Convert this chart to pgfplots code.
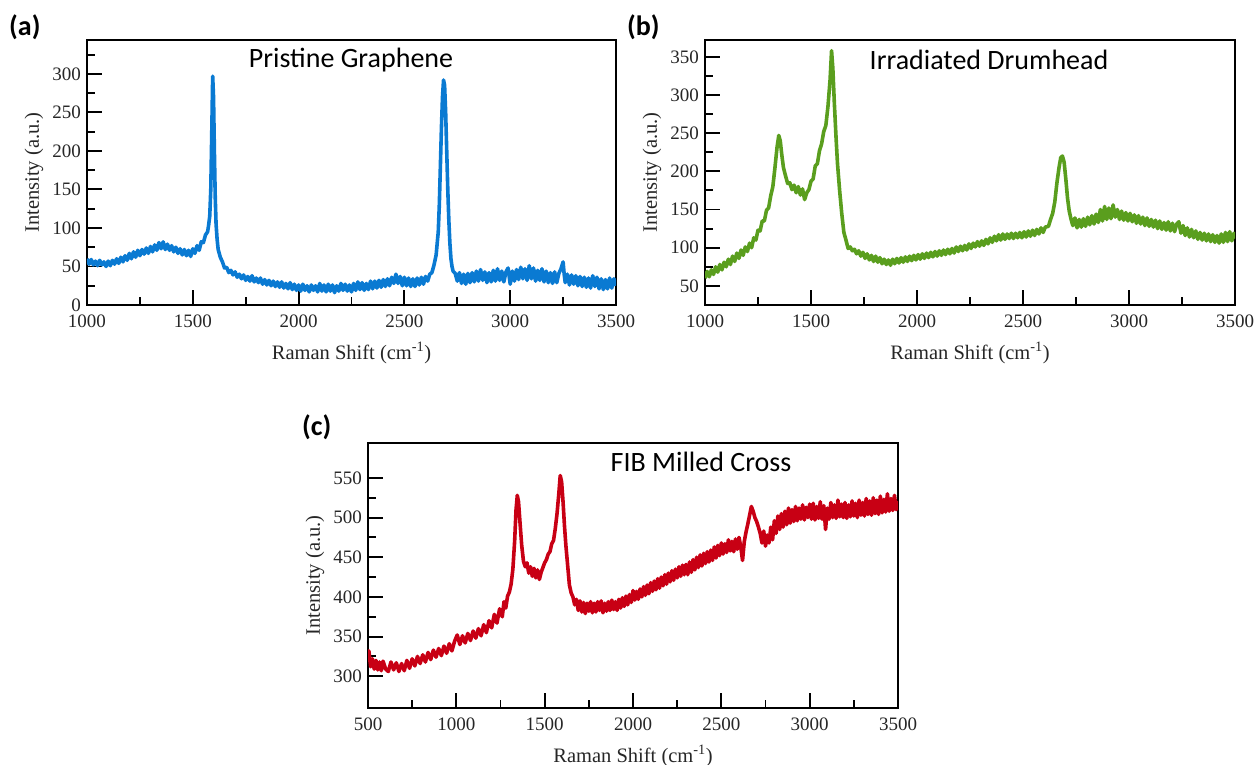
\documentclass[border=0pt]{standalone}
\usepackage{pgfplots}
\pgfplotsset{compat=1.18}
\usepackage{fontspec}
\setmainfont{Liberation Serif}
\newfontfamily\calfont{Carlito}
\definecolor{cblue}{HTML}{0A7AD2}
\definecolor{cgreen}{HTML}{5A9E1E}
\definecolor{cred}{HTML}{C80014}
\pgfplotsset{myax/.style={
  scale only axis, width=530pt, height=265pt, anchor=south west,
  axis line style={line width=1.6pt, black},
  every tick/.style={line width=1.9pt, black},
  major tick length=15pt, minor tick length=8pt,
  tick align=inside, tick pos=left, minor tick num=1,
  xtick distance=500,
  ticklabel style={font=\fontsize{19}{19}\selectfont, text=black!85, inner sep=1pt},
  xticklabel style={yshift=-9pt},
  yticklabel style={xshift=-5pt},
  /pgf/number format/assume math mode=true,
  /pgf/number format/set thousands separator={},
  label style={font=\fontsize{20.5}{21}\selectfont, text=black!85},
  xlabel={Raman Shift (cm\textsuperscript{-1})},
  ylabel={Intensity (a.u.)},
  xlabel style={at={(axis description cs:0.5,-0.18)}, anchor=center},
  ylabel style={at={(axis description cs:-0.1,0.5)}, anchor=center},
  every axis plot/.append style={line width=3.6pt, line join=round, no markers},
  clip=true}}
\begin{document}
\begin{tikzpicture}
\path[use as bounding box] (0pt,0pt) rectangle (1259pt,765pt);
% (a)
\begin{axis}[myax, at={(87pt,460pt)}, width=529pt, xmin=1000, xmax=3500, ymin=0, ymax=344, ytick distance=50]
\addplot[cblue] table {
1000 60
1010 53
1020 59
1030 52
1040 57
1050 51
1060 58
1070 52
1080 56
1090 50
1100 57
1110 51
1120 58
1130 53
1140 60
1150 54
1160 62
1170 56
1180 64
1190 58
1200 67
1210 60
1220 69
1230 62
1240 71
1250 64
1260 72
1270 66
1280 74
1290 67
1300 76
1310 69
1320 78
1330 71
1340 81
1350 73
1360 82
1370 72
1380 79
1390 71
1400 77
1410 69
1420 75
1430 67
1440 73
1450 65
1460 72
1470 64
1480 71
1490 63
1500 73
1510 67
1520 77
1530 71
1540 82
1550 81
1560 91
1570 95
1575 104
1580 115
1585 150
1590 230
1594 297
1598 270
1602 200
1606 140
1610 105
1615 85
1620 72
1630 62
1640 56
1650 48
1660 49
1670 42
1680 45
1690 39
1700 43
1710 36
1720 40
1730 34
1740 39
1750 32
1760 37
1770 31
1780 38
1790 30
1800 35
1810 29
1820 35
1830 27
1840 33
1850 26
1860 32
1870 25
1880 31
1890 24
1900 30
1910 23
1920 30
1930 22
1940 28
1950 21
1960 29
1970 20
1980 27
1990 19
2000 26
2010 18
2020 27
2030 19
2040 25
2050 17
2060 26
2070 19
2080 25
2090 17
2100 28
2110 18
2120 26
2130 17
2140 27
2150 18
2160 26
2170 16
2180 25
2190 18
2200 28
2210 19
2220 27
2230 18
2240 26
2250 17
2260 28
2270 19
2280 30
2290 20
2300 29
2310 19
2320 28
2330 20
2340 31
2350 21
2360 31
2370 22
2380 32
2390 23
2400 33
2410 24
2420 34
2430 25
2440 36
2450 28
2460 40
2470 28
2480 37
2490 25
2500 36
2510 25
2520 35
2530 24
2540 34
2550 24
2560 35
2570 26
2580 36
2590 27
2600 37
2610 31
2620 40
2630 42
2640 52
2650 65
2660 95
2665 130
2670 180
2675 230
2680 270
2685 292
2690 285
2695 250
2700 200
2705 150
2710 110
2715 80
2720 60
2725 50
2730 44
2740 41
2750 31
2760 42
2770 28
2780 40
2790 27
2800 41
2810 29
2820 42
2830 30
2840 44
2850 31
2860 46
2870 32
2880 43
2890 29
2900 42
2910 30
2920 45
2930 31
2940 47
2950 32
2960 44
2970 30
2980 43
2990 48
3000 27
3010 44
3020 31
3030 46
3040 33
3050 49
3060 34
3070 47
3080 32
3090 51
3100 34
3110 48
3120 31
3130 45
3140 32
3150 47
3160 30
3170 44
3180 29
3190 42
3200 28
3210 43
3220 29
3230 41
3240 47
3250 56
3255 40
3260 29
3270 40
3280 26
3290 39
3300 27
3310 38
3320 25
3330 37
3340 24
3350 36
3360 23
3370 35
3380 22
3390 38
3400 24
3410 36
3420 21
3430 34
3440 20
3450 33
3460 21
3470 35
3480 22
3490 34
3500 25
};
\end{axis}
% (b)
\begin{axis}[myax, at={(705pt,460pt)}, xmin=1000, xmax=3500, ymin=25, ymax=372, ytick={50,100,...,350}]
\addplot[cgreen] table {
1000 60
1010 69
1020 62
1030 71
1040 65
1050 75
1060 68
1070 78
1080 71
1090 81
1100 75
1110 85
1120 78
1130 89
1140 82
1150 93
1160 86
1170 97
1180 90
1190 101
1200 95
1210 106
1220 100
1230 113
1240 110
1250 123
1260 122
1270 135
1280 135
1290 149
1300 152
1310 168
1320 180
1330 205
1340 232
1348 247
1355 240
1362 222
1370 205
1380 194
1390 184
1400 185
1410 176
1420 182
1430 172
1440 180
1450 169
1460 177
1470 163
1480 172
1490 176
1500 187
1510 190
1520 207
1530 210
1540 227
1550 236
1560 252
1570 260
1580 285
1590 320
1597 358
1603 335
1610 290
1618 245
1625 210
1635 175
1645 145
1655 120
1665 110
1675 99
1685 101
1695 96
1705 98
1715 92
1725 96
1735 89
1745 94
1755 86
1765 92
1775 84
1785 90
1795 82
1805 89
1815 81
1825 87
1835 79
1845 85
1855 78
1865 84
1875 77
1885 85
1895 79
1905 86
1915 80
1925 87
1935 81
1945 88
1955 82
1965 89
1975 83
1985 90
1995 84
2005 91
2015 85
2025 92
2035 86
2045 93
2055 87
2065 94
2075 88
2085 95
2095 89
2105 96
2115 90
2125 97
2135 91
2145 98
2155 92
2165 99
2175 93
2185 101
2195 95
2205 102
2215 96
2225 103
2235 97
2245 105
2255 99
2265 106
2275 101
2285 108
2295 102
2305 109
2315 103
2325 111
2335 105
2345 113
2355 107
2365 115
2375 109
2385 117
2395 110
2405 118
2415 111
2425 118
2435 112
2445 119
2455 112
2465 119
2475 113
2485 120
2495 113
2505 121
2515 114
2525 122
2535 115
2545 123
2555 116
2565 124
2575 118
2585 126
2595 120
2605 127
2620 128
2630 137
2640 145
2650 160
2660 185
2670 205
2678 218
2686 220
2694 212
2702 190
2710 165
2718 148
2726 138
2735 129
2745 139
2755 126
2765 137
2775 127
2785 138
2795 128
2805 140
2815 130
2825 142
2835 131
2845 144
2855 133
2865 150
2875 135
2885 154
2895 137
2905 152
2915 138
2925 156
2935 140
2945 150
2955 137
2965 148
2975 136
2985 146
2995 135
3005 145
3015 134
3025 143
3035 132
3045 142
3055 131
3065 140
3075 129
3085 139
3095 128
3105 137
3115 127
3125 136
3135 125
3145 135
3155 124
3165 133
3175 123
3185 134
3195 122
3205 132
3215 121
3225 131
3235 134
3245 119
3255 129
3265 116
3275 126
3285 114
3295 124
3305 113
3315 122
3325 111
3335 120
3345 110
3355 119
3365 109
3375 118
3385 108
3395 117
3405 107
3415 116
3425 106
3435 118
3445 107
3455 120
3465 108
3475 121
3485 109
3495 119
3500 112
};
\end{axis}
% (c)
\begin{axis}[myax, at={(368pt,57pt)}, xmin=500, xmax=3500, ymin=260, ymax=594, ytick={300,350,...,550}]
\addplot[cred] table {
500 318
505 332
515 312
525 322
535 309
545 320
555 308
565 318
575 307
585 319
600 309
615 306
630 318
645 308
660 317
675 306
690 316
705 307
720 320
735 310
750 322
765 313
780 325
795 316
810 327
825 318
840 330
855 321
870 333
885 324
900 335
915 326
930 338
945 329
960 341
975 332
990 344
1005 352
1020 340
1035 351
1050 342
1065 354
1080 345
1095 357
1110 348
1125 360
1140 351
1155 365
1170 355
1185 370
1200 361
1215 378
1230 367
1245 385
1260 375
1270 394
1280 386
1290 401
1300 406
1310 416
1320 435
1330 470
1338 510
1345 528
1352 520
1360 495
1370 465
1380 445
1390 438
1400 443
1410 430
1420 438
1430 426
1440 436
1450 424
1460 434
1470 422
1480 431
1490 437
1500 443
1510 447
1520 454
1530 457
1540 467
1550 471
1560 486
1570 505
1580 530
1588 553
1596 545
1604 520
1612 490
1620 465
1630 440
1640 415
1650 405
1660 400
1670 390
1680 397
1690 383
1700 395
1710 381
1720 393
1730 379
1740 392
1750 382
1760 394
1770 380
1780 392
1790 381
1800 394
1810 383
1820 395
1830 380
1840 392
1850 382
1860 394
1870 383
1880 396
1890 384
1900 394
1910 383
1920 397
1930 386
1940 399
1950 388
1960 401
1970 390
1980 403
1990 393
2000 408
2010 396
2020 407
2030 397
2040 410
2050 400
2060 413
2070 402
2080 415
2090 404
2100 418
2110 407
2120 420
2130 409
2140 423
2150 411
2160 425
2170 414
2180 428
2190 416
2200 430
2210 419
2220 433
2230 421
2240 435
2250 424
2260 438
2270 426
2280 440
2290 428
2300 441
2310 428
2320 444
2330 431
2340 447
2350 434
2360 450
2370 437
2380 453
2390 439
2400 455
2410 442
2420 457
2430 444
2440 459
2450 446
2460 463
2470 449
2480 465
2490 452
2500 468
2510 454
2520 467
2530 456
2540 472
2550 458
2560 470
2570 457
2580 473
2590 460
2600 475
2610 463
2620 446
2630 470
2640 482
2650 492
2660 503
2670 514
2680 508
2690 500
2700 495
2710 488
2720 480
2730 468
2740 483
2750 464
2760 478
2770 468
2780 488
2790 472
2800 496
2810 480
2820 502
2830 485
2840 505
2850 488
2860 508
2870 491
2880 512
2890 493
2900 510
2910 495
2920 514
2930 496
2940 512
2950 498
2960 516
2970 497
2980 513
2990 500
3000 517
3010 498
3020 518
3030 497
3040 514
3050 499
3060 520
3070 498
3080 515
3090 485
3100 512
3110 498
3120 519
3130 500
3140 516
3150 499
3160 522
3170 501
3180 517
3190 500
3200 519
3210 499
3220 516
3230 501
3240 521
3250 502
3260 518
3270 500
3280 522
3290 503
3300 519
3310 502
3320 524
3330 504
3340 521
3350 503
3360 525
3370 505
3380 522
3390 504
3400 527
3410 506
3420 523
3430 507
3440 530
3450 508
3460 524
3470 509
3480 528
3490 510
3500 521
};
\end{axis}
% titles and panel letters
\node[anchor=base, font=\calfont\fontsize{28}{28}\selectfont] at (351pt,697pt) {Pristine Graphene};
\node[anchor=base, font=\calfont\fontsize{28}{28}\selectfont] at (989pt,695pt) {Irradiated Drumhead};
\node[anchor=base, font=\calfont\fontsize{28}{28}\selectfont] at (701pt,293pt) {FIB Milled Cross};
\node[anchor=base west, inner sep=0pt, font=\calfont\bfseries\fontsize{28}{28}\selectfont] at (9pt,729pt) {(a)};
\node[anchor=base west, inner sep=0pt, font=\calfont\bfseries\fontsize{28}{28}\selectfont] at (627pt,729pt) {(b)};
\node[anchor=base west, inner sep=0pt, font=\calfont\bfseries\fontsize{28}{28}\selectfont] at (302pt,329pt) {(c)};
\end{tikzpicture}
\end{document}
